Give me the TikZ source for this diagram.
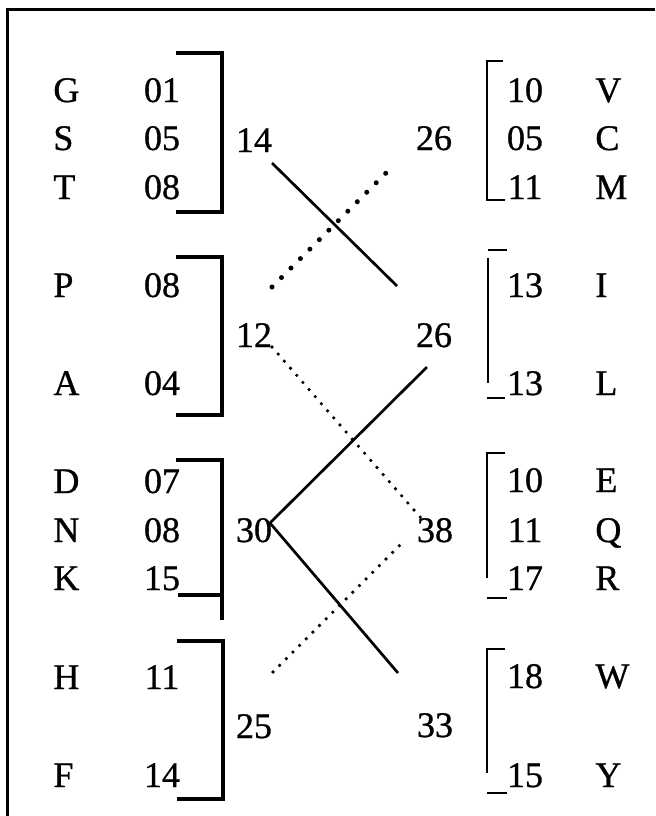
\documentclass[tikz,border=0pt]{standalone}
\usepackage{fontspec}
\setmainfont{Liberation Serif}[FakeBold=0.8]
\usepackage{tikz}
\usetikzlibrary{positioning}
\tikzset{>=latex}
\tikzset{
    txt/.style={inner sep=0pt, font=\fontsize{18}{20}\selectfont},
    frameline/.style={line width=1.5pt},
    lbrace/.style={line width=1.9pt},
    rbrace/.style={line width=1pt},
    link/.style={line width=1.35pt},
    boldlink/.style={line width=2.5pt, line cap=round, dash pattern=on 0pt off 6.7pt},
    finelink/.style={line width=1.8pt, line cap=round, dash pattern=on 0pt off 4.7pt}
}

\begin{document}
\begin{tikzpicture}[x=0.5pt, y=-0.5pt]
    \useasboundingbox (0,0) rectangle (655,816);
    \draw[frameline] (7,816) -- (7,9) -- (655,9); % open frame

    \foreach \ltr/\val/\y in {G/01/102, S/05/150, T/08/199, P/08/297, A/04/395, D/07/493, N/08/542, K/15/590, H/11/689, F/14/787} {
        \node[txt, anchor=base west] (l\ltr) at (53,\y) {\ltr}; % left letters
        \node[txt, anchor=base] (v\ltr) at (162,\y) {\val};
    }
    \foreach \ltr/\val/\y in {V/10/102, C/05/150, M/11/199, I/13/297, L/13/395, E/10/492, Q/11/542, R/17/590, W/18/688, Y/15/787} {
        \node[txt, anchor=base] (v\ltr) at (525,\y) {\val}; % right numbers
        \node[txt, anchor=base west] (l\ltr) at (595,\y) {\ltr};
    }

    % sums
    \node[txt, anchor=base] (s14) at (254,152) {14};
    \node[txt, anchor=base] (s12) at (254,347) {12};
    \node[txt, anchor=base] (s30) at (254,542) {30};
    \node[txt, anchor=base] (s25) at (254,738) {25};
    \node[txt, anchor=base] (t26a) at (434,150) {26};
    \node[txt, anchor=base] (t26b) at (434,347) {26};
    \node[txt, anchor=base] (t38) at (435,542) {38};
    \node[txt, anchor=base] (t33) at (435,737) {33};

    % left brackets
    \draw[lbrace] (176,53) -- (222,53) -- (222,212) -- (176,212);
    \draw[lbrace] (176,257) -- (222,257) -- (222,415) -- (176,415);
    \draw[lbrace] (176,460) -- (222,460) -- (222,620);
    \draw[lbrace] (178,595) -- (222,595);
    \draw[lbrace] (177,641) -- (223,641) -- (223,799) -- (177,799);

    % right brackets
    \draw[rbrace] (503,61) -- (487,61) -- (487,200) -- (505,200);
    \draw[rbrace] (488,250) -- (507,250);
    \draw[rbrace] (488,258) -- (488,383);
    \draw[rbrace] (487,398) -- (505,398);
    \draw[rbrace] (505,453) -- (487,453) -- (487,578);
    \draw[rbrace] (487,598) -- (507,598);
    \draw[rbrace] (505,649) -- (487,649) -- (487,773);
    \draw[rbrace] (487,793) -- (507,793);

    % line ends
    \coordinate (e14) at (272,163);
    \coordinate (w26b) at (397,286);
    \coordinate (e12a) at (272,287);
    \coordinate (w26a) at (395,164);
    \coordinate (e12) at (272,347);
    \coordinate (w38) at (421,518);
    \coordinate (w26c) at (427,367);
    \coordinate (e30) at (270,523);
    \coordinate (w33) at (398,673);
    \coordinate (e25) at (273,672);
    \coordinate (w38b) at (403,542);

    \draw[link] (e14) -- (w26b);
    \draw[boldlink] (e12a) -- (w26a);
    \draw[finelink] (e12) -- (w38);
    \draw[link] (w26c) -- (e30) -- (w33);
    \draw[finelink] (e25) -- (w38b);
\end{tikzpicture}
\end{document}
